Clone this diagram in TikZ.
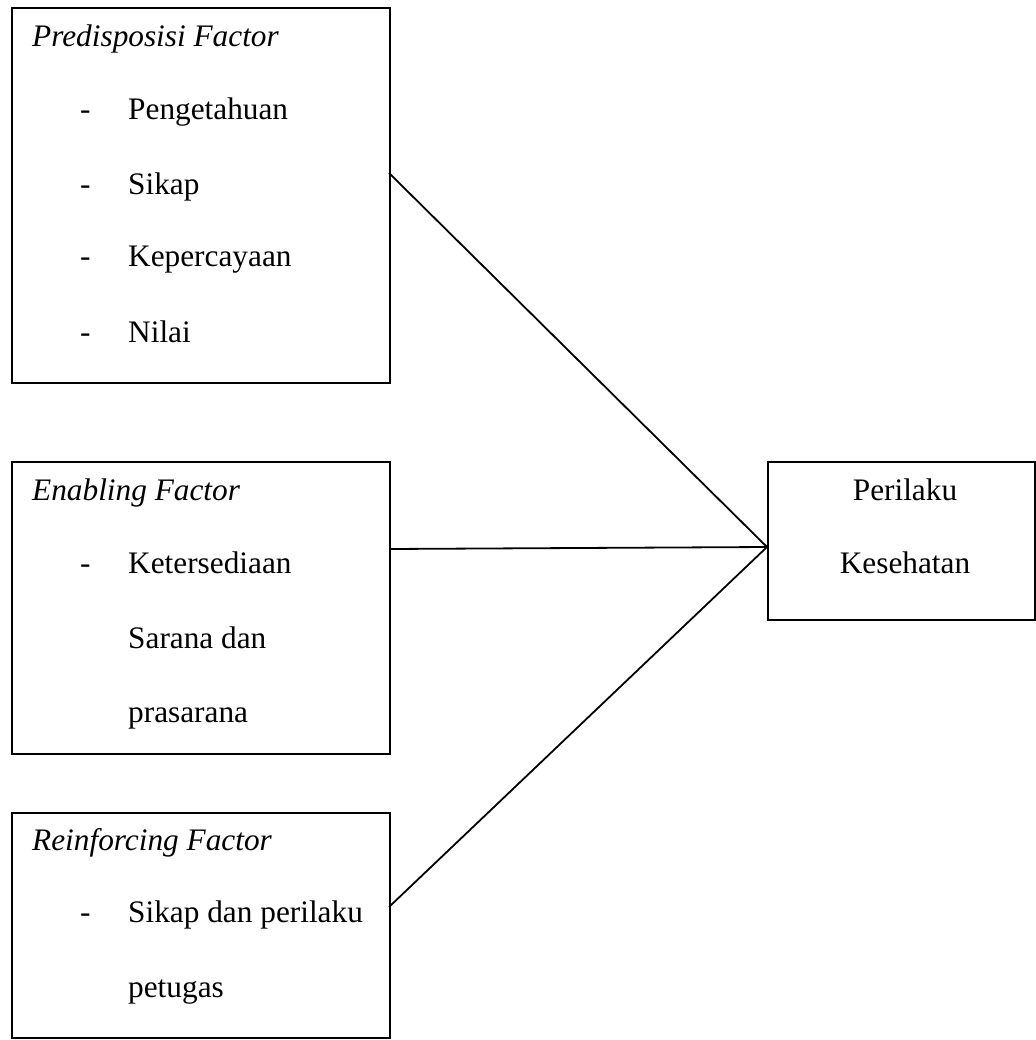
\documentclass[tikz,border=0pt]{standalone}
\usepackage{fontspec}
\setmainfont{Liberation Serif}
\begin{document}
\begin{tikzpicture}[x=1pt,y=-1pt,
  boxst/.style={draw=black,line width=2pt,rectangle,inner sep=0pt,anchor=north west},
  txt/.style={inner sep=0pt,anchor=base west,font=\fontsize{31.3}{36}\selectfont},
  head/.style={txt,font=\fontsize{31.3}{36}\selectfont\itshape},
  ctxt/.style={inner sep=0pt,anchor=base,font=\fontsize{31.3}{36}\selectfont},
  conn/.style={draw=black,line width=1.8pt}]
\useasboundingbox (0,0) rectangle (1035,1040);
% boxes
\node[boxst,minimum width=378pt,minimum height=375pt] (b1) at (11,7) {};
\node[boxst,minimum width=378pt,minimum height=292pt] (b2) at (11,461) {};
\node[boxst,minimum width=378pt,minimum height=225pt] (b3) at (11,812) {};
\node[boxst,minimum width=267pt,minimum height=158pt] (b4) at (767,461) {};
% box 1 text
\node[head] (h1) at (32,47) {Predisposisi Factor};
\node[txt] (d11) at (80,120) {-};
\node[txt] (t11) at (128,120) {Pengetahuan};
\node[txt] (d12) at (80,195) {-};
\node[txt] (t12) at (128,195) {Sikap};
\node[txt] (d13) at (80,267) {-};
\node[txt] (t13) at (128,267) {Kepercayaan};
\node[txt] (d14) at (80,342) {-};
\node[txt] (t14) at (128,342) {Nilai};
% box 2 text
\node[head] (h2) at (32,500) {Enabling Factor};
\node[txt] (d21) at (80,573) {-};
\node[txt] (t21) at (128,573) {Ketersediaan};
\node[txt] (t22) at (128,648) {Sarana dan};
\node[txt] (t23) at (128,722) {prasarana};
% box 3 text
\node[head] (h3) at (32,850) {Reinforcing Factor};
\node[txt] (d31) at (80,922) {-};
\node[txt] (t31) at (128,922) {Sikap dan perilaku};
\node[txt] (t32) at (128,997) {petugas};
% box 4 text
\node[ctxt] (t41) at (905,500) {Perilaku};
\node[ctxt] (t42) at (905,573) {Kesehatan};
% connectors
\coordinate (p1) at (389,173);
\coordinate (p2) at (389,549);
\coordinate (p3) at (389,907);
\coordinate (hub) at (767,547);
\draw[conn] (p1) -- (hub);
\draw[conn] (p2) -- (hub);
\draw[conn] (p3) -- (hub);
\end{tikzpicture}
\end{document}
